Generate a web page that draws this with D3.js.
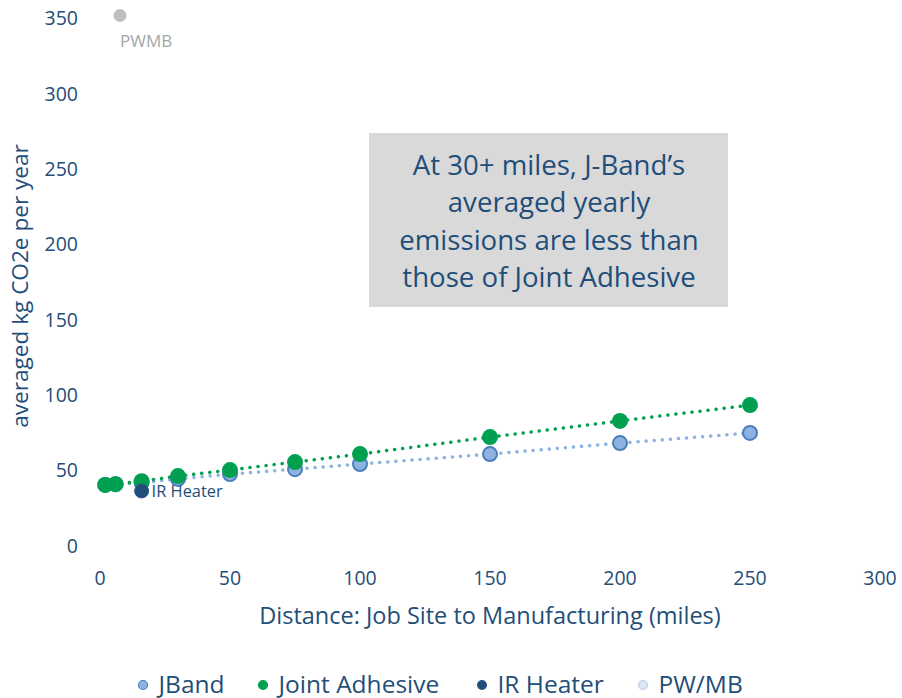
<!DOCTYPE html>
<html><head><meta charset="utf-8">
<script src="https://cdn.jsdelivr.net/npm/d3@7"></script>
<style>
body{margin:0;background:#fff;}
text{font-family:"Open Sans", Lato, sans-serif;}
</style></head>
<body>
<svg id="c" width="902" height="698"></svg>
<script>
const distances = [2, 6, 16, 30, 50, 75, 100, 150, 200, 250];
const jband = [40.5, 41, 42, 44.5, 47.7, 51, 54.4, 61, 68.3, 75];
const jointAdhesive = [40.5, 41, 43, 46.4, 50.4, 55.7, 61, 72.3, 83, 93.5];
const irHeater = [{x: 16, y: 36.5}];
const pwmb = [{x: 7.7, y: 352}];
const xTicks = [0, 50, 100, 150, 200, 250, 300];
const yTicks = [0, 50, 100, 150, 200, 250, 300, 350];
const legendItems = ["JBand", "Joint Adhesive", "IR Heater", "PW/MB"];
const annotation = ["At 30+ miles, J-Band\u2019s", "averaged yearly", "emissions are less than", "those of Joint Adhesive"];

const axisColor = "#1f4e79";
const cJ = "#8db3e2", cJs = "#4a7ebb", cA = "#00a050", cIR = "#1f4e79", cP = "#bfbfbf";

const svg = d3.select("#c");
const x = d3.scaleLinear().domain([0, 300]).range([100, 880]);
const y = d3.scaleLinear().domain([0, 350]).range([546, 18.5]);

// y tick labels
svg.append("g").selectAll("text").data(yTicks).join("text")
  .attr("x", 78).attr("y", d => y(d)).attr("dy", "0.35em")
  .attr("text-anchor", "end").attr("fill", axisColor).attr("font-size", 19.5)
  .text(d => d);
// x tick labels
svg.append("g").selectAll("text").data(xTicks).join("text")
  .attr("x", d => x(d)).attr("y", 578).attr("dy", "0.35em")
  .attr("text-anchor", "middle").attr("fill", axisColor).attr("font-size", 19.5)
  .text(d => d);

svg.append("text").attr("x", 490).attr("y", 616).attr("dy", "0.35em")
  .attr("text-anchor", "middle").attr("fill", axisColor).attr("font-size", 23.5)
  .text("Distance: Job Site to Manufacturing (miles)");
svg.append("text").attr("transform", "translate(20,286) rotate(-90)").attr("dy", "0.35em")
  .attr("text-anchor", "middle").attr("fill", axisColor).attr("font-size", 22.6)
  .text("averaged kg CO2e per year");

// annotation box
svg.append("rect").attr("x", 369).attr("y", 133).attr("width", 359).attr("height", 174).attr("fill", "#d9d9d9");
svg.append("g").selectAll("text").data(annotation).join("text")
  .attr("x", 549).attr("y", (d, i) => 165 + i * 37.5).attr("dy", "0.35em")
  .attr("text-anchor", "middle").attr("fill", axisColor).attr("font-size", 27.6)
  .text(d => d);

// trend lines (dotted)
const lineJ = d3.line().x((d, i) => x(distances[i])).y(d => y(d));
svg.append("path").datum(jband).attr("d", lineJ).attr("fill", "none")
  .attr("stroke", cJ).attr("stroke-width", 3.5).attr("stroke-dasharray", "0.1 8").attr("stroke-linecap", "round");
svg.append("path").datum(jointAdhesive).attr("d", lineJ).attr("fill", "none")
  .attr("stroke", cA).attr("stroke-width", 3.5).attr("stroke-dasharray", "0.1 8").attr("stroke-linecap", "round");

// JBand markers
svg.append("g").selectAll("circle").data(jband).join("circle")
  .attr("cx", (d, i) => x(distances[i])).attr("cy", d => y(d)).attr("r", 7)
  .attr("fill", cJ).attr("stroke", cJs).attr("stroke-width", 2);
// Joint Adhesive markers
svg.append("g").selectAll("circle").data(jointAdhesive).join("circle")
  .attr("cx", (d, i) => x(distances[i])).attr("cy", d => y(d)).attr("r", 8)
  .attr("fill", cA);
// IR Heater
svg.append("g").selectAll("circle").data(irHeater).join("circle")
  .attr("cx", d => x(d.x)).attr("cy", d => y(d.y)).attr("r", 7)
  .attr("fill", cIR).attr("stroke", "#2f5d8f").attr("stroke-width", 1);
svg.append("text").attr("x", x(irHeater[0].x) + 10).attr("y", y(irHeater[0].y)).attr("dy", "0.35em")
  .attr("fill", axisColor).attr("font-size", 16.4).text("IR Heater");
// PWMB
svg.append("g").selectAll("circle").data(pwmb).join("circle")
  .attr("cx", d => x(d.x)).attr("cy", d => y(d.y)).attr("r", 6.5).attr("fill", cP);
svg.append("text").attr("x", x(pwmb[0].x)).attr("y", 41).attr("dy", "0.35em")
  .attr("fill", "#a6a6a6").attr("font-size", 17).text("PWMB");

// legend
const legX = [143, 263, 482, 643];
const legFill = [cJ, cA, cIR, "#dce6f2"];
const legStroke = [cJs, cA, "#2f5d8f", "#b9cde5"];
const lg = svg.append("g").selectAll("g").data(legendItems).join("g")
  .attr("transform", (d, i) => `translate(${legX[i]},685)`);
lg.append("circle").attr("r", 4.5).attr("fill", (d, i) => legFill[i]).attr("stroke", (d, i) => legStroke[i]).attr("stroke-width", 1.2);
lg.append("text").attr("x", 15.5).attr("y", 7.5).attr("fill", axisColor).attr("font-size", 24.5).text(d => d);
</script>
</body></html>
